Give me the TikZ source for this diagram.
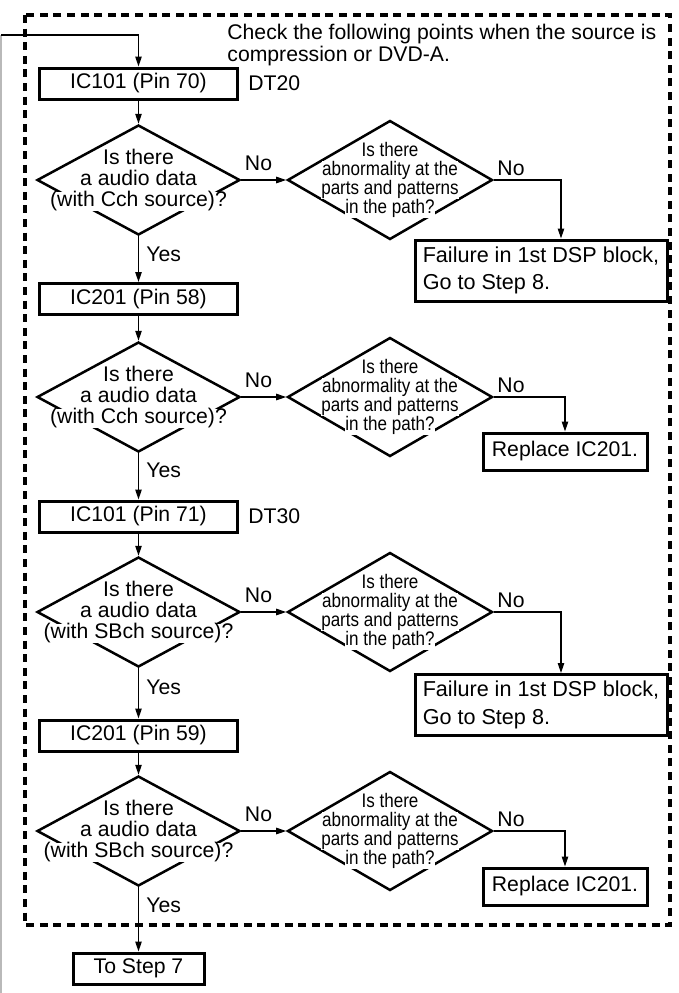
\documentclass[tikz,border=0pt]{standalone}
\usepackage{fontspec}
\setmainfont{Liberation Sans}
\newfontfamily\narrowsf[FakeStretch=0.87]{Liberation Sans}
\usepackage{tikz}
\usetikzlibrary{positioning,arrows.meta,shapes.geometric}

\newcommand{\wline}[1]{{\setlength{\fboxsep}{0pt}\colorbox{white}{#1}}}

\begin{document}
\begin{tikzpicture}[
  x=0.5pt, y=-0.5pt,
  font=\fontsize{10.6}{10.7}\selectfont,
  node distance=22.5pt,
  box/.style={draw, line width=1.5pt, minimum height=15.5pt, inner sep=0pt},
  pinbox/.style={box, minimum width=99pt},
  failbox/.style={box, minimum width=126pt, minimum height=30.5pt, align=left, font=\fontsize{10.8}{13.6}\selectfont},
  replbox/.style={box, minimum width=82pt, minimum height=18.5pt},
  decide/.style={draw, diamond, line width=1.25pt, minimum width=101.5pt, minimum height=55pt, inner sep=0pt},
  check/.style={decide, minimum width=102.5pt, minimum height=59.5pt},
  question/.style={align=center, inner sep=0pt},
  narrowq/.style={question, font=\narrowsf\fontsize{9.8}{9.6}\selectfont},
  tag/.style={inner sep=0pt},
  frame/.style={line width=1.7pt, dash pattern=on 4pt off 2.8pt},
  flow/.style={-{Triangle[length=5pt,width=3.2pt]}, line width=0.6pt}
]
\useasboundingbox (0,0) rectangle (679,993);

% dashed area
\draw[frame] (25,15) rectangle (670,925);
\node[tag, anchor=north west, align=left] (note) at (227,24) {Check the following points when the source is\\compression or DVD-A.};

% block 1
\node[pinbox] (b1) at (138.5,83.5) {IC101 (Pin 70)};
\node[tag, anchor=west] (dt20) at (248,83.5) {DT20};
\node[decide] (d1) at (138.5,180) {};
\node[question] (q1) at (d1) {\wline{Is there}\\\wline{a audio data}\\\wline{(with Cch source)?}};
\node[check, right=of d1] (d2) {};
\node[narrowq] (q2) at (d2) {\wline{Is there}\\\wline{abnormality at the}\\\wline{parts and patterns}\\\wline{in the path?}};
\node[failbox] (f1) at (541,270.5) {Failure in 1st DSP block,\\Go to Step 8.};
\node[tag] (no1) at (258.5,163) {No};
\node[tag] (no2) at (511,168) {No};
\node[tag, anchor=west] (yes1) at (146,254) {Yes};

% block 2
\node[pinbox] (b2) at (138.5,299) {IC201 (Pin 58)};
\node[decide] (d3) at (138.5,397) {};
\node[question] (q3) at (d3) {\wline{Is there}\\\wline{a audio data}\\\wline{(with Cch source)?}};
\node[check, right=of d3] (d4) {};
\node[narrowq] (q4) at (d4) {\wline{Is there}\\\wline{abnormality at the}\\\wline{parts and patterns}\\\wline{in the path?}};
\node[replbox] (r1) at (565,451.5) {Replace IC201.};
\node[tag] (no3) at (258.5,380) {No};
\node[tag] (no4) at (511,385) {No};
\node[tag, anchor=west] (yes2) at (146,470) {Yes};

% block 3
\node[pinbox] (b3) at (138.5,516.5) {IC101 (Pin 71)};
\node[tag, anchor=west] (dt30) at (248,516.5) {DT30};
\node[decide] (d5) at (138.5,612) {};
\node[question] (q5) at (d5) {\wline{Is there}\\\wline{a audio data}\\\wline{(with SBch source)?}};
\node[check, right=of d5] (d6) {};
\node[narrowq] (q6) at (d6) {\wline{Is there}\\\wline{abnormality at the}\\\wline{parts and patterns}\\\wline{in the path?}};
\node[failbox] (f2) at (541,705) {Failure in 1st DSP block,\\Go to Step 8.};
\node[tag] (no5) at (258.5,595) {No};
\node[tag] (no6) at (511,600) {No};
\node[tag, anchor=west] (yes3) at (146,687) {Yes};

% block 4
\node[pinbox] (b4) at (138.5,735.5) {IC201 (Pin 59)};
\node[decide] (d7) at (138.5,831) {};
\node[question] (q7) at (d7) {\wline{Is there}\\\wline{a audio data}\\\wline{(with SBch source)?}};
\node[check, right=of d7] (d8) {};
\node[narrowq] (q8) at (d8) {\wline{Is there}\\\wline{abnormality at the}\\\wline{parts and patterns}\\\wline{in the path?}};
\node[replbox] (r2) at (565,886.5) {Replace IC201.};
\node[tag] (no7) at (258.5,814) {No};
\node[tag] (no8) at (511,819) {No};
\node[tag, anchor=west] (yes4) at (146,905) {Yes};

\node[box, minimum width=65.5pt] (s7) at (138.5,968.5) {To Step 7};

% connectors
\coordinate (entry) at (1,35);
\coordinate (loopend) at (1,993);
\draw[gray!55, line width=0.6pt] (entry) -- (loopend);
\draw[flow] (entry) -| (b1.north);
\draw[flow] (b1) -- (d1);
\draw[flow] (d1) -- (d2);
\draw[flow] (d2.east) -| ([xshift=10pt]f1.north);
\draw[flow] (d1) -- (b2);
\draw[flow] (b2) -- (d3);
\draw[flow] (d3) -- (d4);
\draw[flow] (d4.east) -| (r1.north);
\draw[flow] (d3) -- (b3);
\draw[flow] (b3) -- (d5);
\draw[flow] (d5) -- (d6);
\draw[flow] (d6.east) -| ([xshift=10pt]f2.north);
\draw[flow] (d5) -- (b4);
\draw[flow] (b4) -- (d7);
\draw[flow] (d7) -- (d8);
\draw[flow] (d8.east) -| (r2.north);
\draw[flow] (d7) -- (s7);
\end{tikzpicture}
\end{document}
